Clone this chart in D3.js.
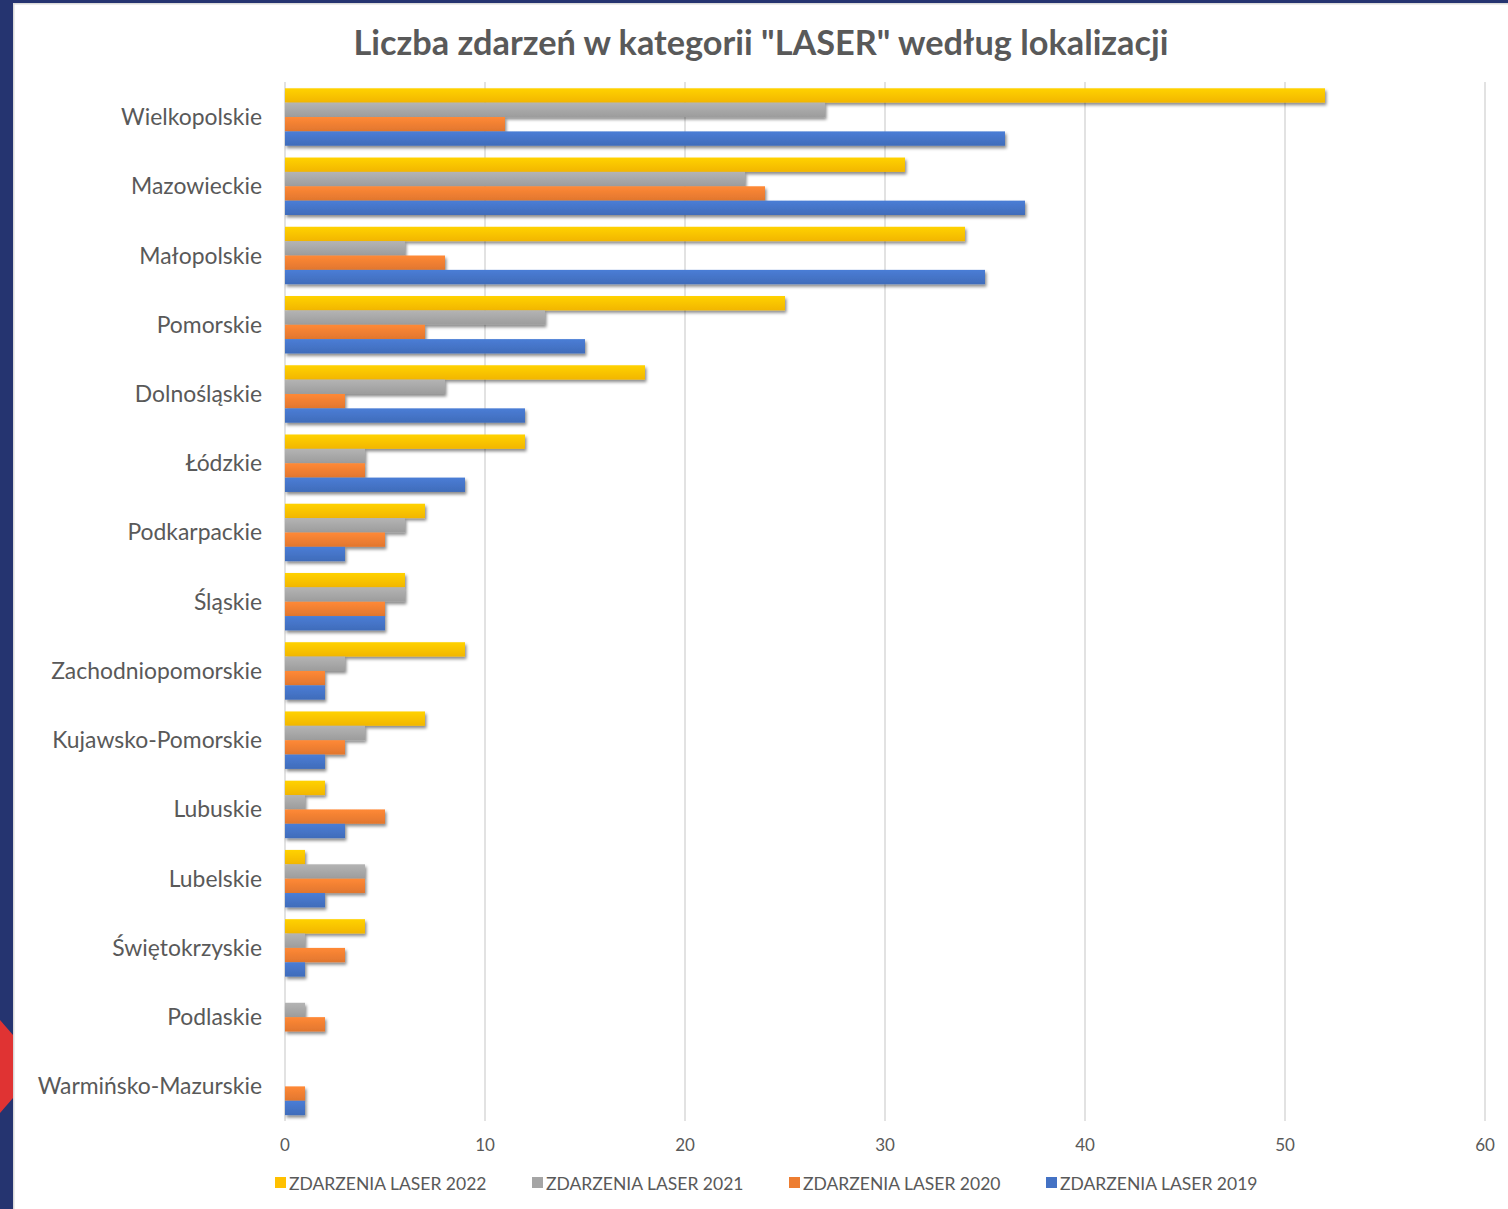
<!DOCTYPE html>
<html><head><meta charset="utf-8">
<script src="https://cdn.jsdelivr.net/npm/d3@7"></script>
<style>
html,body{margin:0;padding:0;background:#253470;}
svg{display:block;}
</style></head>
<body>
<script>
const categories = ["Wielkopolskie","Mazowieckie","Małopolskie","Pomorskie","Dolnośląskie","Łódzkie","Podkarpackie","Śląskie","Zachodniopomorskie","Kujawsko-Pomorskie","Lubuskie","Lubelskie","Świętokrzyskie","Podlaskie","Warmińsko-Mazurskie"];
const seriesNames = ["ZDARZENIA LASER 2022","ZDARZENIA LASER 2021","ZDARZENIA LASER 2020","ZDARZENIA LASER 2019"];
const values2022 = [52,31,34,25,18,12,7,6,9,7,2,1,4,0,0];
const values2021 = [27,23,6,13,8,4,6,6,3,4,1,4,1,1,0];
const values2020 = [11,24,8,7,3,4,5,5,2,3,5,4,3,2,1];
const values2019 = [36,37,35,15,12,9,3,5,2,2,3,2,1,0,1];
const xTicks = [0,10,20,30,40,50,60];
const colors = ["#FFC000","#A5A5A5","#ED7D31","#4472C4"];
const title = 'Liczba zdarzeń w kategorii "LASER" według lokalizacji';

const seriesValues = [values2022, values2021, values2020, values2019];
const W = 1508, H = 1209;
const FONT = "Lato, 'Open Sans', sans-serif";
const svg = d3.select("body").append("svg").attr("width", W).attr("height", H);
const defs = svg.append("defs");
const f = defs.append("filter").attr("id","sh").attr("x","-5%").attr("y","-50%").attr("width","115%").attr("height","250%");
f.append("feDropShadow").attr("dx",1.5).attr("dy",2.5).attr("stdDeviation",1.8).attr("flood-color","#000").attr("flood-opacity",0.45);
colors.forEach((c,i)=>{
  const g = defs.append("linearGradient").attr("id","g"+i).attr("x1",0).attr("y1",0).attr("x2",0).attr("y2",1);
  g.append("stop").attr("offset","0%").attr("stop-color", d3.color(c).brighter(0.25));
  g.append("stop").attr("offset","100%").attr("stop-color", d3.color(c).darker(0.15));
});

// background
svg.append("rect").attr("width",W).attr("height",H).attr("fill","#253470");
svg.append("polygon").attr("points","0,1020 13,1035 13,1098 0,1113").attr("fill","#E03333");
svg.append("rect").attr("x",13).attr("y",3).attr("width",W-13).attr("height",H-3).attr("fill","#D9D9D9");
svg.append("rect").attr("x",14.5).attr("y",4.5).attr("width",W-14.5).attr("height",H-4.5).attr("fill","#FFFFFF");

const x = d3.scaleLinear().domain([0,60]).range([285,1485]);
const y = d3.scaleBand().domain(categories).range([82.4,1121]).paddingInner(0.17).paddingOuter(0.085);
const ySub = d3.scaleBand().domain(d3.range(4)).range([0,y.bandwidth()]);

// gridlines
svg.append("g").selectAll("line").data(xTicks).join("line")
  .attr("x1",d=>x(d)).attr("x2",d=>x(d)).attr("y1",82).attr("y2",1121)
  .attr("stroke","#D9D9D9").attr("stroke-width",1.5);

// tick labels
svg.append("g").selectAll("text").data(xTicks).join("text")
  .attr("x",d=>x(d)).attr("y",1151).attr("text-anchor","middle")
  .attr("font-family",FONT).attr("font-size",17).attr("fill","#595959").text(d=>d);

// category labels
svg.append("g").selectAll("text").data(categories).join("text")
  .attr("x",262).attr("y",d=>y(d)+y.bandwidth()/2+8).attr("text-anchor","end")
  .attr("font-family",FONT).attr("font-size",22.9).attr("fill","#595959").text(d=>d);

// bars
const barsG = svg.append("g");
seriesValues.forEach((vals,si)=>{
  barsG.append("g").attr("filter","url(#sh)").selectAll("rect").data(categories).join("rect")
    .attr("x",x(0)).attr("y",(d)=>y(d)+ySub(si))
    .attr("width",(d,i)=>x(vals[i])-x(0)).attr("height",ySub.bandwidth())
    .attr("fill","url(#g"+si+")");
});

// title
svg.append("text").attr("x",761).attr("y",55).attr("text-anchor","middle")
  .attr("font-family",FONT).attr("font-weight","bold").attr("font-size",34.3).attr("fill","#595959").text(title);

// legend
const lg = svg.append("g").selectAll("g").data(seriesNames).join("g")
  .attr("transform",(d,i)=>`translate(${275+i*257},1183)`);
lg.append("rect").attr("x",0).attr("y",-6).attr("width",11).attr("height",11).attr("fill",(d,i)=>colors[i]);
lg.append("text").attr("x",14).attr("y",6.5).attr("font-family",FONT).attr("font-size",17.5).attr("fill","#595959").text(d=>d);
</script>
</body></html>
